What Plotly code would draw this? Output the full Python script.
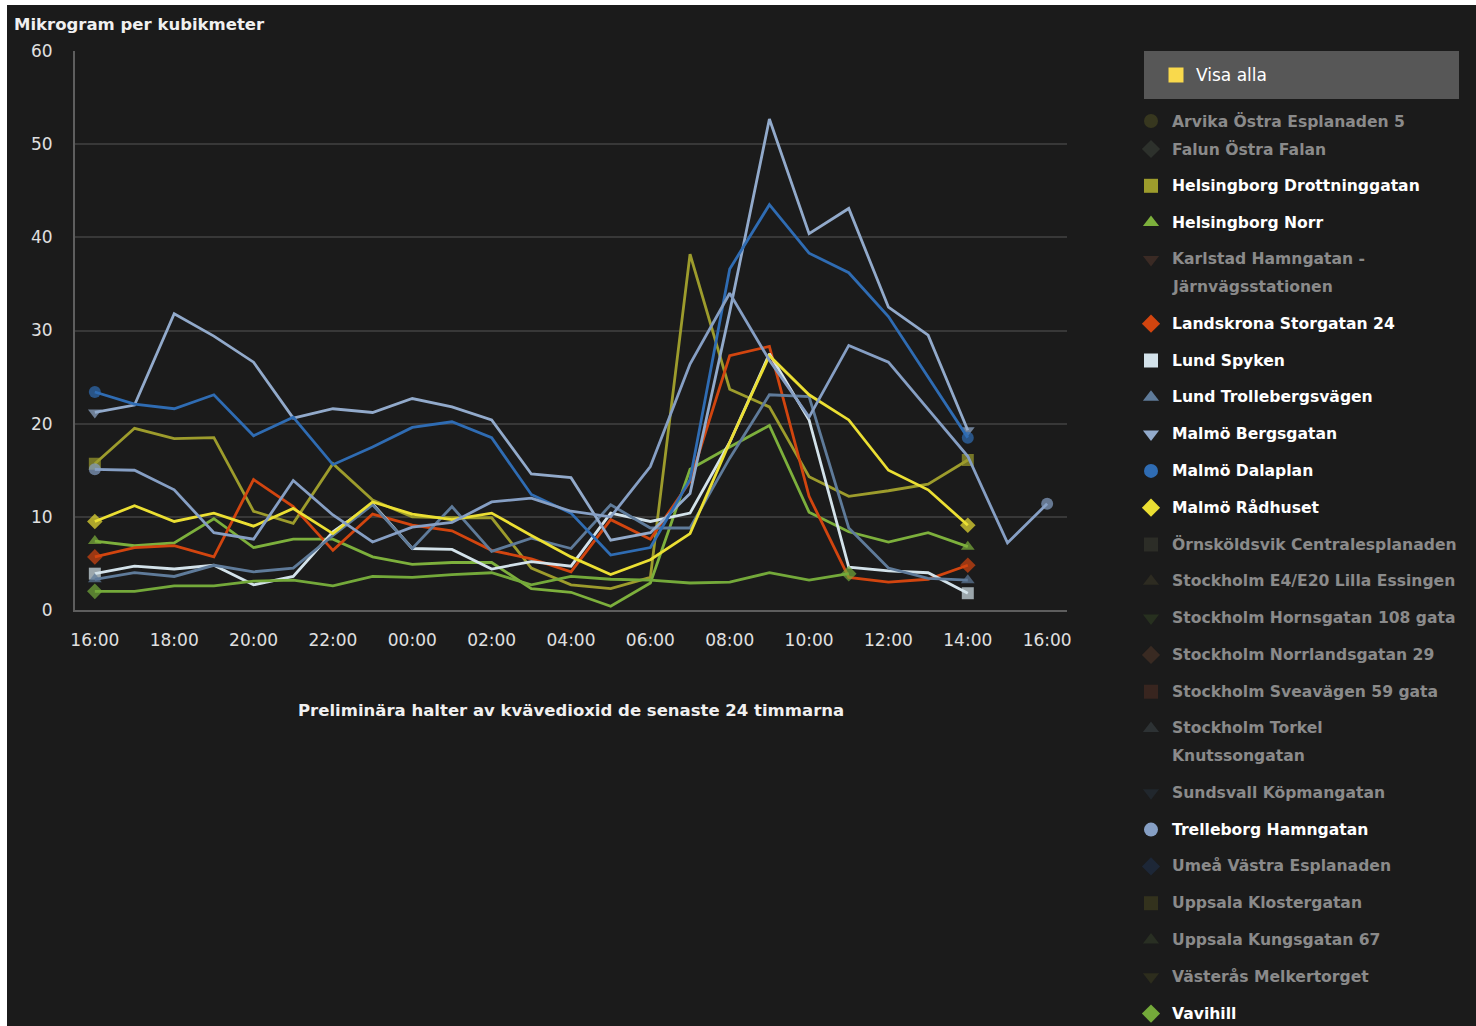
import plotly.graph_objects as go

# Hourly NO2 readings (µg/m³), 16:00 one day to 16:00 the next (25 hourly slots)
hours = list(range(25))
tick_hours = [0, 2, 4, 6, 8, 10, 12, 14, 16, 18, 20, 22, 24]
tick_labels = ["16:00", "18:00", "20:00", "22:00", "00:00", "02:00", "04:00",
               "06:00", "08:00", "10:00", "12:00", "14:00", "16:00"]

helsingborg_drottninggatan = [15.7, 19.5, 18.4, 18.5, 10.6, 9.3, 15.7, 11.8, 10.0, 9.9, 9.9, 4.5,
                              2.7, 2.3, 3.5, 38.2, 23.7, 21.8, 14.3, 12.2, 12.8, 13.5, 16.1, None, None]
helsingborg_norr = [7.4, 6.9, 7.2, 9.8, 6.7, 7.6, 7.6, 5.7, 4.9, 5.1, 5.1, 2.3,
                    1.9, 0.4, 2.9, 15.1, 17.5, 19.8, 10.5, 8.4, 7.3, 8.3, 6.8, None, None]
landskrona = [5.7, 6.7, 6.9, 5.7, 14.0, 11.1, 6.4, 10.3, 9.1, 8.5, 6.4, 5.5,
              4.1, 9.7, 7.6, 13.8, 27.3, 28.3, 12.2, 3.5, 3.0, 3.3, 4.8, None, None]
lund_spyken = [3.9, 4.7, 4.4, 4.8, 2.7, 3.6, 8.4, 11.4, 6.6, 6.5, 4.4, 5.2,
               4.7, 10.4, 9.5, 10.4, 18.0, 27.5, 20.4, 4.6, 4.2, 4.0, 1.8, None, None]
lund_trollebergsvagen = [3.3, 4.0, 3.6, 4.8, 4.1, 4.5, 8.0, 11.3, 6.6, 11.1, 6.3, 7.7,
                         6.6, 11.3, 8.8, 8.8, 16.3, 23.1, 22.9, 8.8, 4.5, 3.4, 3.2, None, None]
malmo_bergsgatan = [21.2, 22.0, 31.8, 29.4, 26.6, 20.6, 21.6, 21.2, 22.7, 21.8, 20.4, 14.6,
                    14.2, 7.5, 8.3, 12.5, 32.0, 52.7, 40.4, 43.1, 32.5, 29.5, 19.3, None, None]
malmo_dalaplan = [23.4, 22.1, 21.6, 23.1, 18.7, 20.7, 15.6, 17.5, 19.6, 20.2, 18.5, 12.4,
                  10.4, 5.9, 6.7, 14.0, 36.6, 43.5, 38.3, 36.2, 31.5, 25.0, 18.5, None, None]
malmo_radhuset = [9.5, 11.2, 9.5, 10.4, 9.0, 10.9, 8.2, 11.6, 10.3, 9.7, 10.4, 8.0,
                  5.7, 3.8, 5.4, 8.2, 18.0, 27.3, 23.1, 20.4, 15.0, 12.9, 9.1, None, None]
trelleborg_hamngatan = [15.1, 15.0, 12.9, 8.3, 7.6, 13.9, 10.2, 7.3, 8.9, 9.4, 11.6, 12.0,
                        10.6, 10.0, 15.4, 26.4, 34.0, 26.8, 20.7, 28.4, 26.6, 21.5, 16.5, 7.2, 11.4]
vavihill = [2.0, 2.0, 2.6, 2.6, 3.1, 3.2, 2.6, 3.6, 3.5, 3.8, 4.0, 2.7,
            3.6, 3.3, 3.2, 2.9, 3.0, 4.0, 3.2, 3.9, None, None, None, None, None]

# Station list as shown in the legend: (name, colour, symbol, values or None when hidden)
stations = [
    ("Arvika Östra Esplanaden 5", "#37371f", "circle", None),
    ("Falun Östra Falan", "#2d312c", "diamond", None),
    ("Helsingborg Drottninggatan", "#9d9c2c", "square", helsingborg_drottninggatan),
    ("Helsingborg Norr", "#7db03c", "triangle-up", helsingborg_norr),
    ("Karlstad Hamngatan -\nJärnvägsstationen", "#3a2a24", "triangle-down", None),
    ("Landskrona Storgatan 24", "#d2450f", "diamond", landskrona),
    ("Lund Spyken", "#d3e2ea", "square", lund_spyken),
    ("Lund Trollebergsvägen", "#5f7b9a", "triangle-up", lund_trollebergsvagen),
    ("Malmö Bergsgatan", "#92aacb", "triangle-down", malmo_bergsgatan),
    ("Malmö Dalaplan", "#2f6cb3", "circle", malmo_dalaplan),
    ("Malmö Rådhuset", "#ebdf33", "diamond", malmo_radhuset),
    ("Örnsköldsvik Centralesplanaden", "#2c2d27", "square", None),
    ("Stockholm E4/E20 Lilla Essingen", "#2d2b21", "triangle-up", None),
    ("Stockholm Hornsgatan 108 gata", "#27301f", "triangle-down", None),
    ("Stockholm Norrlandsgatan 29", "#392a22", "diamond", None),
    ("Stockholm Sveavägen 59 gata", "#38251f", "square", None),
    ("Stockholm Torkel\nKnutssongatan", "#2d3234", "triangle-up", None),
    ("Sundsvall Köpmangatan", "#21272d", "triangle-down", None),
    ("Trelleborg Hamngatan", "#869fc4", "circle", trelleborg_hamngatan),
    ("Umeå Västra Esplanaden", "#1d2737", "diamond", None),
    ("Uppsala Klostergatan", "#33321d", "square", None),
    ("Uppsala Kungsgatan 67", "#292f23", "triangle-up", None),
    ("Västerås Melkertorget", "#2d2d1d", "triangle-down", None),
    ("Vavihill", "#74a93a", "diamond", vavihill),
]

W, H = 1476, 1026
BG = "#1b1b1b"
FONT = "DejaVu Sans"


def px(x):
    return x / W


def py(y):
    return 1 - y / H


fig = go.Figure()

# Station lines, with markers only at the first and last reading
for name, color, symbol, values in stations:
    if values is None:
        continue
    idx = [i for i, v in enumerate(values) if v is not None]
    sizes = [12 if i in (idx[0], idx[-1]) else 0 for i in range(len(values))]
    fig.add_trace(go.Scatter(
        x=hours, y=values, mode="lines+markers", name=name.replace("\n", " "),
        line=dict(color=color, width=2.8),
        marker=dict(symbol=symbol, size=sizes, color=color, line=dict(width=0)),
        showlegend=False, connectgaps=False, cliponaxis=False,
        xaxis="x", yaxis="y",
    ))

# Legend column on the right, drawn on a pixel-scaled helper axis
leg_marker_x, leg_text_x = 1151, 1170
row_step, line_step = 36.8, 27.5
leg_x, leg_y, leg_sym, leg_col = [], [], [], []
annotations = []
y = 121.0
for i, (name, color, symbol, values) in enumerate(stations):
    if i == 1:
        y += 28
    elif i > 1:
        prev_lines = stations[i - 1][0].count("\n")
        y += row_step + prev_lines * line_step
    leg_x.append(leg_marker_x)
    leg_y.append(y)
    leg_sym.append(symbol)
    leg_col.append(color)
    text_color = "#ffffff" if values is not None else "#8a8a8a"
    for k, part in enumerate(name.split("\n")):
        annotations.append(dict(
            x=px(leg_text_x), y=py(y + k * line_step), xref="paper", yref="paper",
            text=f"<b>{part}</b>", showarrow=False, xanchor="left", yanchor="middle",
            font=dict(family=FONT, size=15.6, color=text_color),
        ))

fig.add_trace(go.Scatter(
    x=leg_x, y=leg_y, mode="markers", showlegend=False, hoverinfo="skip",
    marker=dict(symbol=leg_sym, color=leg_col, size=14, line=dict(width=0)),
    xaxis="x2", yaxis="y2", cliponaxis=False,
))
# "Visa alla" toggle marker
fig.add_trace(go.Scatter(
    x=[1176], y=[75], mode="markers", showlegend=False, hoverinfo="skip",
    marker=dict(symbol="square", color="#f9d94c", size=15, line=dict(width=0)),
    xaxis="x2", yaxis="y2", cliponaxis=False,
))
annotations.append(dict(
    x=px(1194), y=py(75), xref="paper", yref="paper", text="Visa alla",
    showarrow=False, xanchor="left", yanchor="middle",
    font=dict(family=FONT, size=17, color="#ffffff"),
))

# Axis title and caption
annotations.append(dict(
    x=px(12), y=py(24), xref="paper", yref="paper", text="<b>Mikrogram per kubikmeter</b>",
    showarrow=False, xanchor="left", yanchor="middle",
    font=dict(family=FONT, size=16.5, color="#f0f0f0"),
))
annotations.append(dict(
    x=px(571), y=py(710), xref="paper", yref="paper",
    text="<b>Preliminära halter av kvävedioxid de senaste 24 timmarna</b>",
    showarrow=False, xanchor="center", yanchor="middle",
    font=dict(family=FONT, size=16.5, color="#f0f0f0"),
))

shapes = [
    # "Visa alla" button
    dict(type="rect", xref="paper", yref="paper", x0=px(1144), x1=px(1459),
         y0=py(99), y1=py(51), fillcolor="#575757", line=dict(width=0), layer="below"),
    # page frame edges
    dict(type="rect", xref="paper", yref="paper", x0=0, x1=1, y0=py(5), y1=1,
         fillcolor="#ffffff", line=dict(width=0), layer="above"),
    dict(type="rect", xref="paper", yref="paper", x0=0, x1=px(7), y0=0, y1=1,
         fillcolor="#ffffff", line=dict(width=0), layer="above"),
]

fig.update_layout(
    width=W, height=H, autosize=False,
    margin=dict(l=0, r=0, t=0, b=0, pad=0, autoexpand=False),
    paper_bgcolor=BG, plot_bgcolor="rgba(0,0,0,0)",
    font=dict(family=FONT, color="#e0e0e0"),
    showlegend=False,
    xaxis=dict(
        domain=[px(75), px(1067)], range=[-0.5, 24.5], automargin=False,
        tickmode="array", tickvals=tick_hours, ticktext=tick_labels,
        tickfont=dict(family=FONT, size=17, color="#e0e0e0"),
        showgrid=False, zeroline=False, showline=True, linecolor="#5e5e5e", linewidth=2,
        ticks="", ticklabelstandoff=14, fixedrange=True,
    ),
    yaxis=dict(
        domain=[py(610), py(51)], range=[0, 60], automargin=False,
        tickmode="array", tickvals=[0, 10, 20, 30, 40, 50, 60],
        tickfont=dict(family=FONT, size=17, color="#e0e0e0"),
        showgrid=True, gridcolor="#383838", gridwidth=2,
        zeroline=False, showline=True, linecolor="#5e5e5e", linewidth=2,
        ticks="", ticklabelstandoff=17, fixedrange=True,
    ),
    xaxis2=dict(domain=[0, 1], range=[0, W], visible=False, anchor="y2",
                automargin=False, fixedrange=True),
    yaxis2=dict(domain=[0, 1], range=[H, 0], visible=False, anchor="x2",
                automargin=False, fixedrange=True),
    annotations=annotations,
    shapes=shapes,
)

fig.write_html("out.html", config={"displayModeBar": False})
